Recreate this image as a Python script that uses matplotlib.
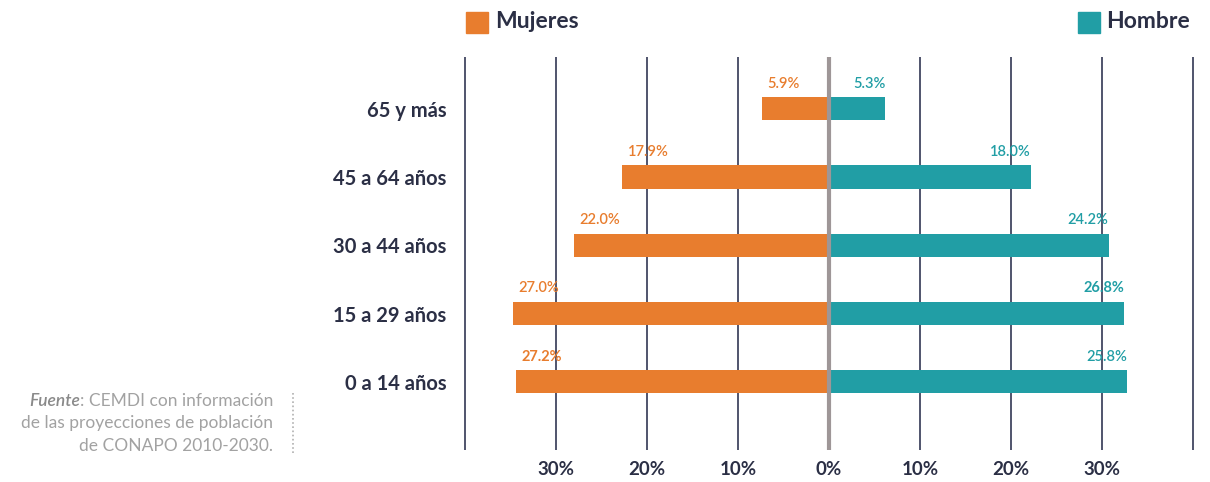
import matplotlib.pyplot as plt
from matplotlib.patches import Rectangle
from matplotlib.lines import Line2D

plt.rcParams['font.family'] = ['Lato', 'DejaVu Sans']

# grupos de edad (de abajo hacia arriba)
grupos = ['0 a 14 años', '15 a 29 años', '30 a 44 años', '45 a 64 años', '65 y más']
# longitud de las barras tal como aparecen en la gráfica (%)
mujeres = [34.4, 34.7, 28.0, 22.7, 7.4]
hombres = [32.7, 32.4, 30.7, 22.2, 6.2]
# etiquetas impresas sobre las barras
etq_mujeres = ['27.2%', '27.0%', '22.0%', '17.9%', '5.9%']
etq_hombres = ['25.8%', '26.8%', '24.2%', '18.0%', '5.3%']
ticks = [-30, -20, -10, 0, 10, 20, 30]
ticks_txt = ['30%', '20%', '10%', '0%', '10%', '20%', '30%']

naranja = '#E87D2E'
verde = '#219EA5'
oscuro = '#2B2F45'

fig = plt.figure(figsize=(12.1, 4.82), dpi=100)
W, H = 1210, 482
ax = fig.add_axes([462 / W, 1 - 450 / H, (1196 - 462) / W, (450 - 57) / H])

y = list(range(len(grupos)))
ax.barh(y, [-m for m in mujeres], height=0.34, color=naranja, zorder=2)
ax.barh(y, hombres, height=0.34, color=verde, zorder=2)

for g in [-40, -30, -20, -10, 10, 20, 30, 40]:
    ax.axvline(g, color='#50546C', lw=1.4, zorder=1)
ax.axvline(0, color='#9E9697', lw=3, zorder=3)

for i in y:
    ax.text(-mujeres[i] + 0.6, i + 0.37, etq_mujeres[i], color=naranja, fontsize=10.5,
            fontweight='bold' if i == 0 else 'semibold', ha='left', va='center')
    ax.text(hombres[i], i + 0.37, etq_hombres[i], color=verde, fontsize=10.5,
            fontweight='bold' if i == 1 else 'semibold', ha='right', va='center')

ax.set_xlim(-40.3, 40.3)
ax.set_ylim(-1.0, 4.76)
ax.set_yticks(y)
ax.set_yticklabels(grupos, fontsize=14.5, fontweight='bold', color=oscuro)
ax.set_xticks(ticks)
ax.set_xticklabels(ticks_txt, fontsize=13.5, fontweight='bold', color=oscuro)
ax.tick_params(axis='y', length=0, pad=11)
ax.tick_params(axis='x', length=0, pad=8)
for s in ax.spines.values():
    s.set_visible(False)

# leyenda
fig.patches.append(Rectangle((466 / W, 1 - 33 / H), 22 / W, 21 / H, color=naranja,
                             transform=fig.transFigure, figure=fig))
fig.text(495 / W, 1 - 22 / H, 'Mujeres', fontsize=16.5, fontweight='bold', color=oscuro,
         ha='left', va='center')
fig.patches.append(Rectangle((1078 / W, 1 - 33 / H), 22 / W, 21 / H, color=verde,
                             transform=fig.transFigure, figure=fig))
fig.text(1106 / W, 1 - 22 / H, 'Hombre', fontsize=16.5, fontweight='bold', color=oscuro,
         ha='left', va='center')

# fuente
gris = '#A2A2A2'
t1 = fig.text(273 / W, 1 - 401 / H, ': CEMDI con información', fontsize=12.5,
              color=gris, ha='right', va='center')
fig.text(273 / W, 1 - 423 / H, 'de las proyecciones de población', fontsize=12.5,
         color=gris, ha='right', va='center')
fig.text(273 / W, 1 - 446 / H, 'de CONAPO 2010-2030.', fontsize=12.5,
         color=gris, ha='right', va='center')
fig.canvas.draw()
bb = t1.get_window_extent()
fig.text(bb.x0 / W, 1 - 401 / H, 'Fuente', fontsize=12.5, fontstyle='italic',
         fontweight='semibold', color='#8A8A8A', ha='right', va='center')
fig.lines.append(Line2D([293 / W, 293 / W], [1 - 393 / H, 1 - 455 / H], transform=fig.transFigure,
                        color='#B0B0B0', lw=1.2, ls=(0, (1, 1.5))))

fig.savefig('out.png', dpi=100)
